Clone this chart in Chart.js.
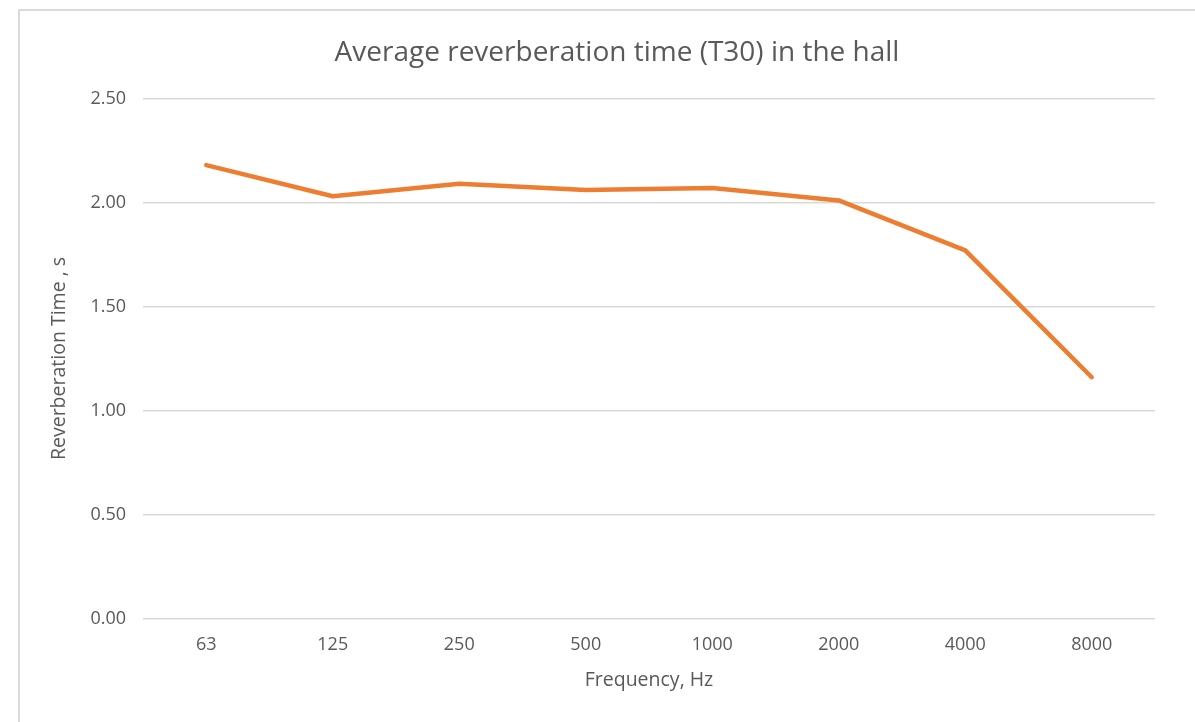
<!DOCTYPE html>
<html>
<head>
<meta charset="utf-8">
<title>Average reverberation time (T30) in the hall</title>
<script src="https://cdn.jsdelivr.net/npm/chart.js@4/dist/chart.umd.min.js"></script>
<style>
  html, body { margin: 0; padding: 0; background: #ffffff; overflow: hidden; }
  #wrap { position: relative; width: 1195px; height: 722px; }
  #frame { position: absolute; left: 18px; top: 9px; width: 1300px; height: 900px;
           border: 2px solid #d9d9d9; box-sizing: border-box; pointer-events: none; }
  canvas { position: absolute; left: 0; top: 0; }
</style>
</head>
<body>
<div id="wrap">
  <div id="frame"></div>
  <canvas id="chart" width="1195" height="722"></canvas>
</div>
<script>
// Octave-band centre frequencies, Hz
const frequencies = ['63', '125', '250', '500', '1000', '2000', '4000', '8000'];
// Averaged T30 per band, seconds
const t30Values = [2.18, 2.03, 2.09, 2.06, 2.07, 2.01, 1.77, 1.16];
// Value axis ticks
const yTicks = [0, 0.5, 1.0, 1.5, 2.0, 2.5];

const chartTitle = 'Average reverberation time (T30) in the hall';
const FONT = '"Open Sans", "Noto Sans", "Liberation Sans", sans-serif';
const GREY_TEXT = '#595959';

// Title drawn centred over the whole framed area rather than the plot
const frameTitle = {
  id: 'frameTitle',
  afterDraw(chart) {
    const ctx = chart.ctx;
    ctx.save();
    ctx.fillStyle = GREY_TEXT;
    ctx.font = '28px ' + FONT;
    ctx.textAlign = 'center';
    ctx.textBaseline = 'middle';
    ctx.fillText(chartTitle, 617, 53);
    ctx.restore();
  }
};

new Chart(document.getElementById('chart'), {
  type: 'line',
  data: {
    labels: frequencies,
    datasets: [{
      label: 'T30',
      data: t30Values,
      borderColor: '#ED7D31',
      backgroundColor: '#ED7D31',
      borderWidth: 4.5,
      borderCapStyle: 'round',
      borderJoinStyle: 'round',
      pointRadius: 0,
      tension: 0,
      fill: false
    }]
  },
  plugins: [frameTitle],
  options: {
    responsive: false,
    animation: false,
    devicePixelRatio: 1,
    layout: { padding: { left: 0, right: 40, top: 98.5, bottom: 0 } },
    plugins: {
      legend: { display: false },
      tooltip: { enabled: false },
      title: { display: false }
    },
    scales: {
      x: {
        offset: true,
        grid: { display: false },
        border: { display: false },
        ticks: {
          color: GREY_TEXT,
          font: { family: FONT, size: 18 },
          padding: 8,
          maxRotation: 0
        },
        title: {
          display: true,
          text: 'Frequency, Hz',
          color: GREY_TEXT,
          font: { family: FONT, size: 19.5, lineHeight: 1.2 },
          padding: { top: 0, bottom: 30 }
        },
        afterFit(scale) { scale.height = 103.5; }
      },
      y: {
        min: 0,
        max: 2.5,
        afterBuildTicks(scale) { scale.ticks = yTicks.map(v => ({ value: v })); },
        grid: { color: '#d9d9d9', lineWidth: 1.5, drawTicks: false },
        border: { display: false },
        ticks: {
          color: GREY_TEXT,
          font: { family: FONT, size: 18 },
          padding: 17,
          callback: v => Number(v).toFixed(2)
        },
        title: {
          display: true,
          text: 'Reverberation Time , s',
          color: GREY_TEXT,
          font: { family: FONT, size: 19.5, lineHeight: 1.2 },
          padding: { top: 48, bottom: 0 }
        },
        afterFit(scale) { scale.width = 143; }
      }
    }
  }
});
</script>
</body>
</html>
